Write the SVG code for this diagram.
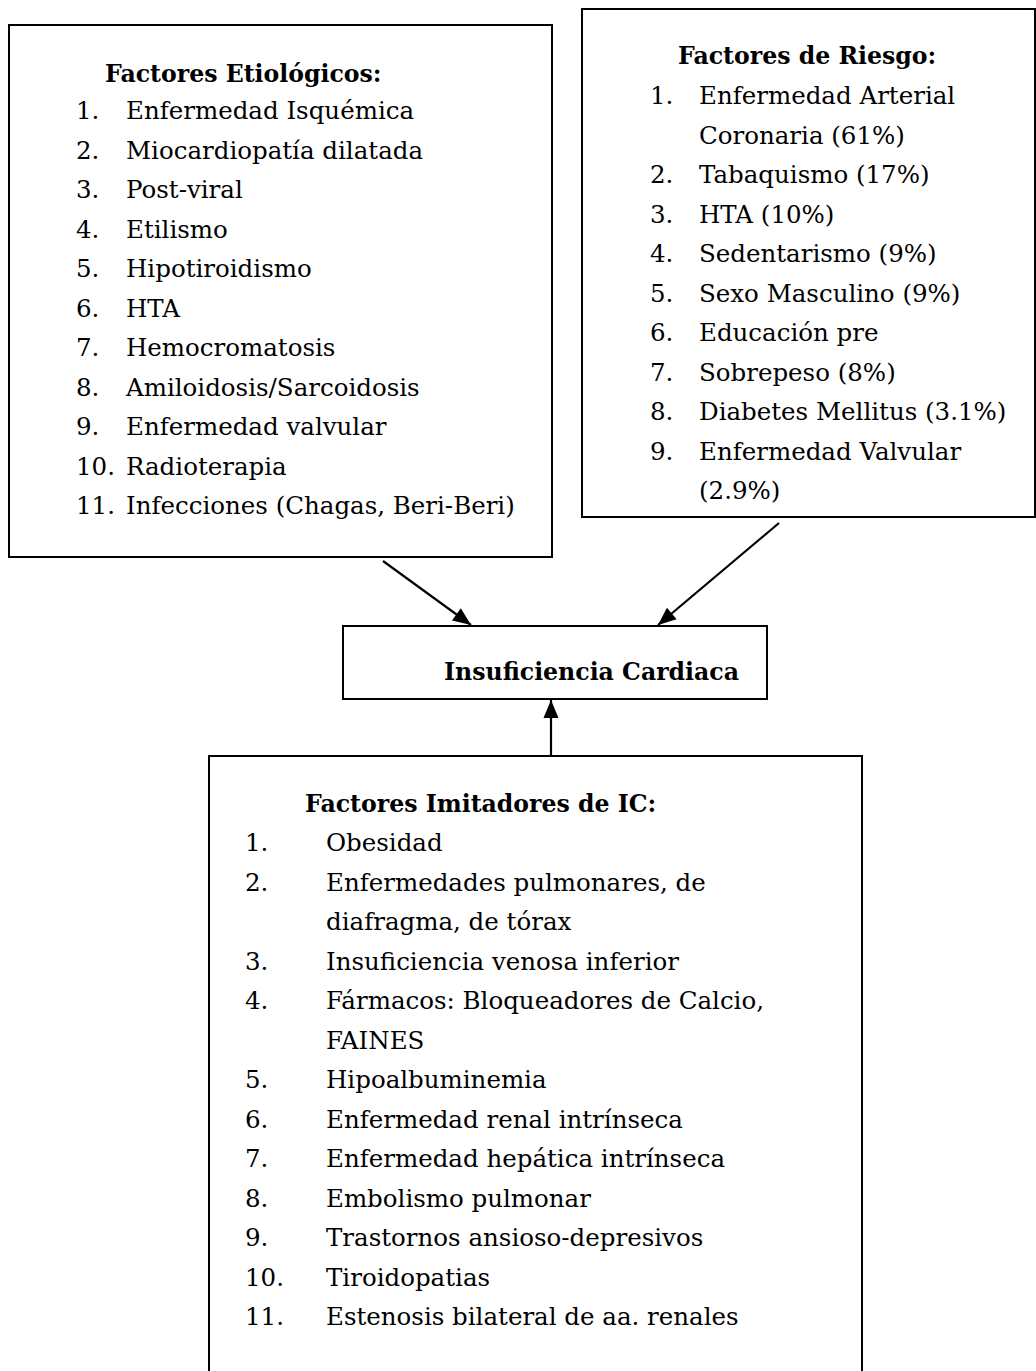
<svg xmlns="http://www.w3.org/2000/svg" width="1036" height="1371" viewBox="0 0 1036 1371">
  <style>
    .box { fill: #fff; stroke: #000; stroke-width: 2; }
    .t { font-family: "DejaVu Serif", "Liberation Serif", serif; font-size: 24.5px; fill: #000; }
    .h { font-weight: bold; font-size: 23.6px; }
    .edge { stroke: #000; stroke-width: 2.2; fill: none; }
  </style>
  <defs>
    <marker id="arrow" markerUnits="userSpaceOnUse" markerWidth="22" markerHeight="22" viewBox="0 0 22 22" refX="20" refY="11" orient="auto">
      <path d="M2,3.5 L20,11 L2,18.5 Z" fill="#000"/>
    </marker>
  </defs>
  <rect width="1036" height="1371" fill="#fff"/>

  <!-- Etiological factors -->
  <g id="etiologicos">
    <rect class="box" x="9" y="25" width="543" height="532"/>
    <text class="t h" x="105" y="82">Factores Etiológicos:</text>
    <g class="t">
      <text x="76" y="119">1.</text><text x="126" y="119">Enfermedad Isquémica</text>
      <text x="76" y="158.5">2.</text><text x="126" y="158.5">Miocardiopatía dilatada</text>
      <text x="76" y="198">3.</text><text x="126" y="198">Post-viral</text>
      <text x="76" y="237.5">4.</text><text x="126" y="237.5">Etilismo</text>
      <text x="76" y="277">5.</text><text x="126" y="277">Hipotiroidismo</text>
      <text x="76" y="316.5">6.</text><text x="126" y="316.5">HTA</text>
      <text x="76" y="356">7.</text><text x="126" y="356">Hemocromatosis</text>
      <text x="76" y="395.5">8.</text><text x="126" y="395.5">Amiloidosis/Sarcoidosis</text>
      <text x="76" y="435">9.</text><text x="126" y="435">Enfermedad valvular</text>
      <text x="76" y="474.5">10.</text><text x="126" y="474.5">Radioterapia</text>
      <text x="76" y="514">11.</text><text x="126" y="514">Infecciones (Chagas, Beri-Beri)</text>
    </g>
  </g>

  <!-- Risk factors -->
  <g id="riesgo">
    <rect class="box" x="582" y="9" width="453" height="508"/>
    <text class="t h" x="678" y="64">Factores de Riesgo:</text>
    <g class="t">
      <text x="650" y="104">1.</text><text x="699" y="104">Enfermedad Arterial</text>
      <text x="699" y="143.5">Coronaria (61%)</text>
      <text x="650" y="183">2.</text><text x="699" y="183">Tabaquismo (17%)</text>
      <text x="650" y="222.5">3.</text><text x="699" y="222.5">HTA (10%)</text>
      <text x="650" y="262">4.</text><text x="699" y="262">Sedentarismo (9%)</text>
      <text x="650" y="301.5">5.</text><text x="699" y="301.5">Sexo Masculino (9%)</text>
      <text x="650" y="341">6.</text><text x="699" y="341">Educación pre</text>
      <text x="650" y="380.5">7.</text><text x="699" y="380.5">Sobrepeso (8%)</text>
      <text x="650" y="420">8.</text><text x="699" y="420">Diabetes Mellitus (3.1%)</text>
      <text x="650" y="459.5">9.</text><text x="699" y="459.5">Enfermedad Valvular</text>
      <text x="699" y="499">(2.9%)</text>
    </g>
  </g>

  <!-- Heart failure -->
  <g id="insuficiencia">
    <rect class="box" x="343" y="626" width="424" height="73"/>
    <text class="t h" x="444" y="680">Insuficiencia Cardiaca</text>
  </g>

  <!-- Heart failure mimics -->
  <g id="imitadores">
    <rect class="box" x="209" y="756" width="653" height="630"/>
    <text class="t h" x="305" y="812">Factores Imitadores de IC:</text>
    <g class="t">
      <text x="245" y="851">1.</text><text x="326" y="851">Obesidad</text>
      <text x="245" y="890.5">2.</text><text x="326" y="890.5">Enfermedades pulmonares, de</text>
      <text x="326" y="930">diafragma, de tórax</text>
      <text x="245" y="969.5">3.</text><text x="326" y="969.5">Insuficiencia venosa inferior</text>
      <text x="245" y="1009">4.</text><text x="326" y="1009">Fármacos: Bloqueadores de Calcio,</text>
      <text x="326" y="1048.5">FAINES</text>
      <text x="245" y="1088">5.</text><text x="326" y="1088">Hipoalbuminemia</text>
      <text x="245" y="1127.5">6.</text><text x="326" y="1127.5">Enfermedad renal intrínseca</text>
      <text x="245" y="1167">7.</text><text x="326" y="1167">Enfermedad hepática intrínseca</text>
      <text x="245" y="1206.5">8.</text><text x="326" y="1206.5">Embolismo pulmonar</text>
      <text x="245" y="1246">9.</text><text x="326" y="1246">Trastornos ansioso-depresivos</text>
      <text x="245" y="1285.5">10.</text><text x="326" y="1285.5">Tiroidopatias</text>
      <text x="245" y="1325">11.</text><text x="326" y="1325">Estenosis bilateral de aa. renales</text>
    </g>
  </g>

  <!-- Connectors -->
  <g id="connectors">
    <line class="edge" x1="383" y1="561" x2="471" y2="625" marker-end="url(#arrow)"/>
    <line class="edge" x1="779" y1="523" x2="658" y2="625" marker-end="url(#arrow)"/>
    <line class="edge" x1="551" y1="756" x2="551" y2="700" marker-end="url(#arrow)"/>
  </g>
</svg>
